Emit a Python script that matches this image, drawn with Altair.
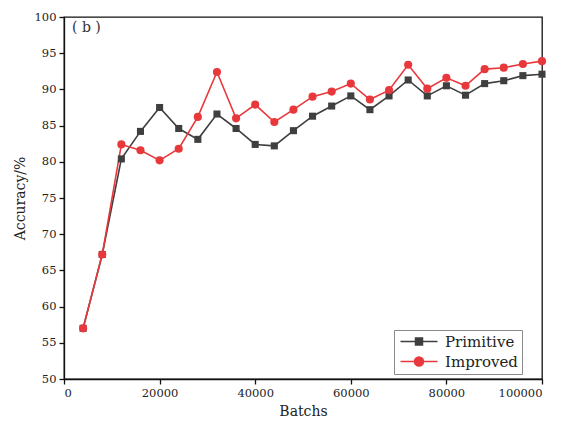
import altair as alt
import pandas as pd

batches = [4000, 8000, 12000, 16000, 20000, 24000, 28000, 32000, 36000, 40000,
           44000, 48000, 52000, 56000, 60000, 64000, 68000, 72000, 76000, 80000,
           84000, 88000, 92000, 96000, 100000]
primitive = [57.0, 67.2, 80.4, 84.2, 87.5, 84.6, 83.1, 86.6, 84.6, 82.4,
             82.2, 84.3, 86.3, 87.7, 89.1, 87.2, 89.1, 91.3, 89.1, 90.5,
             89.2, 90.8, 91.2, 91.9, 92.1]
improved = [57.0, 67.2, 82.4, 81.6, 80.2, 81.8, 86.2, 92.4, 86.0, 87.9,
            85.5, 87.2, 89.0, 89.7, 90.8, 88.6, 89.9, 93.4, 90.1, 91.6,
            90.5, 92.8, 93.0, 93.5, 93.9]
series_names = ["Primitive", "Improved"]
series_colors = ["#3f3f3f", "#e8383c"]
x_ticks = [0, 20000, 40000, 60000, 80000, 100000]
y_ticks = [50, 55, 60, 65, 70, 75, 80, 85, 90, 95, 100]

FONT = "DejaVu Serif"

df = pd.concat([
    pd.DataFrame({"Batchs": batches, "Accuracy": primitive, "series": "Primitive"}),
    pd.DataFrame({"Batchs": batches, "Accuracy": improved, "series": "Improved"}),
])

xenc = alt.X("Batchs:Q", scale=alt.Scale(domain=[0, 100000], nice=False),
             axis=alt.Axis(values=x_ticks, format="d", title="Batchs", titlePadding=6))
yenc = alt.Y("Accuracy:Q", scale=alt.Scale(domain=[50, 100], nice=False, zero=False),
             axis=alt.Axis(values=y_ticks, title="Accuracy/%", titlePadding=7))

base = alt.Chart(df)

prim = base.transform_filter("datum.series == 'Primitive'")
impr = base.transform_filter("datum.series == 'Improved'")

line_p = prim.mark_line(color=series_colors[0], strokeWidth=1.6).encode(x=xenc, y=yenc)
pt_p = prim.mark_point(shape="square", filled=True, size=50, opacity=1,
                       color=series_colors[0]).encode(x=xenc, y=yenc)
line_i = impr.mark_line(color=series_colors[1], strokeWidth=1.6).encode(x=xenc, y=yenc)
pt_i = impr.mark_point(shape="circle", filled=True, size=66, opacity=1,
                       color=series_colors[1]).encode(x=xenc, y=yenc)

sq_path = "M-1,0H6.4M2,-0.7H3.4V0.7H2Z"
ci_path = "M-1,0H6.4M3.6,0A0.9,0.9,0,1,1,1.8,0A0.9,0.9,0,1,1,3.6,0Z"

legend = alt.Legend(title=None, orient="none", legendX=330, legendY=313,
                    strokeColor="#8a8a8a", padding=4, symbolSize=100,
                    symbolStrokeWidth=1.5, labelFont=FONT, labelFontSize=15,
                    labelColor="#222", labelOffset=32, rowPadding=4,
                    labelLimit=200)

leg_layer = base.transform_filter("false").mark_point(filled=True, opacity=1).encode(
    x=xenc, y=yenc,
    fill=alt.Fill("series:N", scale=alt.Scale(domain=series_names, range=series_colors), legend=legend),
    stroke=alt.Stroke("series:N", scale=alt.Scale(domain=series_names, range=series_colors), legend=legend),
    shape=alt.Shape("series:N", scale=alt.Scale(domain=series_names, range=[sq_path, ci_path]), legend=legend),
)

label = alt.Chart(pd.DataFrame({"t": ["( b )"]})).mark_text(
    align="left", baseline="middle", font=FONT, fontSize=14, color="#333"
).encode(text="t:N", x=alt.value(8), y=alt.value(11))

chart = alt.layer(line_p, line_i, pt_p, pt_i, leg_layer, label).properties(
    width=478, height=362,
    autosize=alt.AutoSizeParams(type="none"),
    padding={"left": 56, "top": 9, "right": 15, "bottom": 44},
).configure_view(
    stroke="#111", strokeWidth=1.3
).configure_axis(
    grid=False, domainColor="#111", domainWidth=1.3, tickColor="#111", tickWidth=1.3,
    tickSize=5, labelFont=FONT, labelFontSize=11.5, labelColor="#222", labelPadding=3,
    titleFont=FONT, titleFontSize=14, titleFontWeight="normal", titleColor="#222",
)

chart.save("out.html", embed_options={"renderer": "svg", "actions": False})
